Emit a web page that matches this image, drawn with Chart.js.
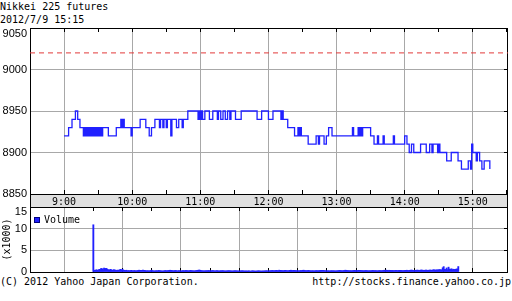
<!DOCTYPE html>
<html>
<head>
<meta charset="utf-8">
<script src="https://cdn.jsdelivr.net/npm/chart.js@4/dist/chart.umd.min.js"></script>
<style>
  html, body { margin: 0; padding: 0; background: #fff; }
  body { width: 512px; height: 301px; position: relative; overflow: hidden; font: 10px "DejaVu Sans Mono", monospace; color: #000; }
  .txt { position: absolute; line-height: 13px; white-space: pre; }
  #head { left: 0; top: 0; }
  #copy { left: 0; top: 275px; }
  #url { right: 1px; top: 275px; }
  canvas { position: absolute; left: 0; }
  #price { top: 0; }
  #volume { top: 194px; }
</style>
</head>
<body>
<div id="head" class="txt">Nikkei 225 futures
2012/7/9 15:15</div>
<div id="copy" class="txt">(C) 2012 Yahoo Japan Corporation.</div>
<div id="url" class="txt">http://stocks.finance.yahoo.co.jp</div>
<canvas id="price" width="512" height="207"></canvas>
<canvas id="volume" width="512" height="86"></canvas>
<script>
// minutes counted from 9:00
const hourMinutes = [0, 60, 120, 180, 240, 300, 360]
const hourLabels = ['9:00', '10:00', '11:00', '12:00', '13:00', '14:00', '15:00']
const priceTicks = [8850, 8900, 8950, 9000, 9050]
const volumeTicks = [0, 5000, 10000, 15000]
const prevClose = 9020

// price changes: minute -> new price (stepped)
const priceMinutes = [
    0, 4, 7, 10, 12, 14, 17, 18, 19, 20, 21, 22, 23, 24, 25, 26, 27, 28, 29, 30,
    31, 32, 33, 34, 39, 46, 50, 51, 52, 53, 59, 60, 67, 72, 75, 77, 80, 84, 85, 87,
    88, 90, 91, 94, 95, 99, 101, 104, 105, 109, 118, 119, 120, 121, 122, 124, 128, 131, 135, 136,
    138, 140, 142, 144, 146, 147, 151, 156, 170, 174, 180, 184, 191, 192, 193, 197, 203, 206, 207, 208,
    209, 215, 222, 224, 225, 229, 231, 233, 236, 254, 255, 259, 260, 261, 262, 263, 270, 273, 276, 277,
    281, 282, 290, 291, 300, 302, 304, 306, 308, 314, 319, 322, 324, 325, 329, 330, 331, 337, 341, 347,
    350, 356, 358, 359, 360, 363, 364, 366, 368, 370, 375,
]
const priceValues = [
    8920, 8930, 8940, 8950, 8940, 8930, 8920, 8930, 8920, 8930, 8920, 8930, 8920, 8930, 8920, 8930, 8920, 8930, 8920, 8930,
    8920, 8930, 8920, 8930, 8920, 8930, 8940, 8930, 8940, 8930, 8920, 8930, 8940, 8930, 8920, 8930, 8940, 8930, 8940, 8930,
    8940, 8930, 8940, 8920, 8940, 8930, 8940, 8930, 8940, 8950, 8940, 8950, 8940, 8950, 8940, 8950, 8940, 8950, 8940, 8950,
    8940, 8950, 8940, 8950, 8940, 8950, 8940, 8950, 8940, 8950, 8940, 8950, 8940, 8950, 8940, 8930, 8920, 8930, 8920, 8930,
    8920, 8910, 8920, 8910, 8920, 8910, 8920, 8930, 8920, 8930, 8920, 8930, 8920, 8930, 8920, 8930, 8920, 8910, 8920, 8910,
    8920, 8910, 8920, 8910, 8920, 8910, 8900, 8910, 8900, 8910, 8900, 8910, 8900, 8910, 8900, 8910, 8900, 8890, 8900, 8890,
    8880, 8890, 8880, 8910, 8900, 8890, 8900, 8890, 8880, 8890, 8880,
]

// contracts per minute, 9:00 .. 15:15
const volume = [
    10900, 420, 380, 510, 460, 350, 620, 580, 820, 760, 540, 910, 680, 850, 730, 560, 470, 520, 610, 390, 450, 530, 480, 410, 370,
    440, 390, 520, 610, 480, 650, 430, 380, 360, 410, 300, 340, 290, 330, 380, 310, 280, 350, 300, 270, 320, 360, 420, 390, 330,
    380, 450, 410, 360, 300, 280, 310, 260, 290, 340, 410, 300, 270, 250, 290, 310, 280, 360, 330, 300, 270, 240, 260, 300, 350,
    290, 310, 340, 380, 410, 370, 330, 300, 280, 350, 320, 290, 260, 300, 280, 250, 270, 330, 310, 290, 360, 340, 300, 280, 330,
    370, 320, 300, 280, 260, 310, 350, 390, 420, 460, 380, 330, 300, 280, 270, 290, 310, 300, 340, 320, 290, 270, 300, 310, 280,
    260, 290, 310, 280, 250, 270, 300, 290, 320, 280, 260, 250, 270, 290, 310, 300, 280, 260, 240, 270, 290, 300, 280, 260, 250,
    230, 260, 280, 300, 270, 250, 240, 260, 230, 250, 270, 240, 220, 250, 260, 240, 230, 210, 240, 260, 280, 250, 230, 220, 250,
    240, 260, 280, 300, 270, 260, 290, 310, 330, 360, 320, 300, 350, 380, 340, 310, 420, 390, 350, 330, 300, 320, 360, 340, 310,
    290, 330, 380, 410, 360, 340, 390, 360, 330, 300, 310, 280, 300, 350, 330, 380, 420, 360, 330, 310, 340, 370, 330, 300, 280,
    310, 290, 270, 300, 330, 310, 290, 320, 350, 380, 400, 360, 330, 300, 290, 270, 300, 280, 260, 290, 310, 280, 300, 270, 260,
    280, 300, 330, 370, 340, 310, 290, 330, 360, 420, 380, 350, 330, 300, 320, 290, 310, 340, 380, 360, 330, 300, 360, 410, 390,
    350, 330, 310, 290, 320, 350, 330, 300, 280, 310, 290, 320, 360, 340, 310, 330, 300, 280, 310, 340, 320, 300, 330, 360, 410,
    390, 430, 380, 350, 400, 370, 340, 360, 330, 310, 350, 380, 340, 320, 360, 390, 370, 340, 310, 330, 360, 380, 410, 370, 340,
    390, 420, 450, 400, 370, 350, 380, 410, 440, 400, 370, 420, 460, 430, 400, 380, 420, 450, 410, 390, 430, 470, 440, 410, 480,
    520, 470, 450, 500, 480, 530, 560, 510, 490, 980, 1240, 620, 580, 930, 540, 1120, 680, 610, 750, 560, 640, 590, 620, 680, 720,
    1260,
]

const blue = '#2020ff'
const gridColor = '#a8a8a8'
const monoFont = { family: 'DejaVu Sans Mono', size: 10 }

const timeAxis = (showLabels) => ({
    type: 'linear', min: -30, max: 391,
    afterBuildTicks: scale => { scale.ticks = hourMinutes.map(value => ({ value })) },
    afterFit: scale => { scale.height = showLabels ? 13 : 0 },
    ticks: {
        display: showLabels, autoSkip: false, maxRotation: 0, padding: 2,
        color: '#000', font: monoFont,
        callback: (value, index) => hourLabels[index],
    },
    grid: { color: gridColor, drawTicks: false },
    border: { display: false },
})

// black frame + little inward ticks every half hour and on the right side
const frame = {
    id: 'frame',
    beforeDatasetsDraw(chart) {
        const { ctx, chartArea: a, scales: { x, y } } = chart
        ctx.save()
        ctx.strokeStyle = '#000'
        ctx.lineWidth = 1
        ctx.strokeRect(a.left + 0.5, a.top + 0.5, a.right - a.left - 1, a.bottom - a.top)
        ctx.beginPath()
        for (let m = 0; m <= 390; m += 30) {
            const px = Math.round(x.getPixelForValue(m) - 0.5) + 0.5
            ctx.moveTo(px, a.top); ctx.lineTo(px, a.top + 4)
            ctx.moveTo(px, a.bottom); ctx.lineTo(px, a.bottom - 4)
        }
        y.ticks.forEach(t => {
            const py = Math.round(y.getPixelForValue(t.value) - 0.5) + 0.5
            ctx.moveTo(a.right - 4, py); ctx.lineTo(a.right, py)
        })
        ctx.stroke()
        ctx.restore()
    }
}

// grey band under the price panel that holds the time labels
const band = {
    id: 'band',
    beforeDraw(chart) {
        const { ctx, chartArea: a } = chart
        ctx.save()
        ctx.fillStyle = '#e0e0e0'
        ctx.fillRect(a.left, a.bottom, a.right - a.left, 13)
        ctx.strokeStyle = '#000'
        ctx.strokeRect(a.left + 0.5, a.bottom + 0.5, a.right - a.left - 1, 13)
        ctx.restore()
    }
}

const volumeKey = {
    id: 'volumeKey',
    afterDatasetsDraw(chart) {
        const { ctx, chartArea: a } = chart
        const ds = chart.data.datasets[0]
        ctx.save()
        ctx.fillStyle = ds.backgroundColor
        ctx.fillRect(a.left + 4, a.top + 10, 6, 6)
        ctx.strokeStyle = '#000080'
        ctx.strokeRect(a.left + 4.5, a.top + 10.5, 5, 5)
        ctx.fillStyle = '#000'
        ctx.font = '10px "DejaVu Sans Mono"'
        ctx.textBaseline = 'middle'
        ctx.fillText(ds.label, a.left + 14, a.top + 13.5)
        ctx.restore()
    }
}

const common = {
    responsive: false, animation: false, events: [],
    plugins: { legend: { display: false }, tooltip: { enabled: false } },
}

new Chart(document.getElementById('price'), {
    type: 'line',
    data: {
        datasets: [{
            label: 'Nikkei 225 futures',
            data: priceMinutes.map((m, i) => ({ x: m, y: priceValues[i] })),
            stepped: true, borderColor: blue, borderWidth: 1.3, pointRadius: 0, fill: false,
        }, {
            label: 'previous close',
            data: [{ x: -30, y: prevClose }, { x: 391, y: prevClose }],
            borderColor: '#e23a3a', borderWidth: 1, borderDash: [5, 4], pointRadius: 0, fill: false,
        }]
    },
    options: {
        ...common,
        layout: { padding: { top: 28, left: 0, right: 4, bottom: 0 } },
        scales: {
            x: timeAxis(true),
            y: {
                min: 8850, max: 9050,
                afterBuildTicks: scale => { scale.ticks = priceTicks.map(value => ({ value })) },
                afterFit: scale => { scale.width = 30 },
                ticks: {
                    color: '#000', padding: 3,
                    font: { family: 'Liberation Sans', size: 11, lineHeight: 1 },
                    callback: v => v === 9050 ? ['', String(v)] : String(v),
                },
                grid: { color: gridColor, drawTicks: false },
                border: { display: false },
            }
        }
    },
    plugins: [band, frame]
})

new Chart(document.getElementById('volume'), {
    type: 'bar',
    data: {
        datasets: [{
            label: 'Volume',
            data: volume.map((v, i) => ({ x: i, y: v })),
            backgroundColor: blue, borderWidth: 0, barThickness: 1.2,
        }]
    },
    options: {
        ...common,
        layout: { padding: { top: 13, left: 0, right: 4, bottom: 8 } },
        scales: {
            x: timeAxis(false),
            y: {
                min: 0, max: 15000,
                afterBuildTicks: scale => { scale.ticks = volumeTicks.map(value => ({ value })) },
                afterFit: scale => { scale.width = 30 },
                ticks: {
                    color: '#000', padding: 3,
                    font: { family: 'Liberation Sans', size: 11, lineHeight: 0.82 },
                    callback: v => v === 15000 ? ['', String(v / 1000)] : String(v / 1000),
                },
                title: { display: true, text: '(x1000)', color: '#000', font: monoFont, padding: { top: 1, bottom: 0 } },
                grid: { color: gridColor, drawTicks: false },
                border: { display: false },
            }
        }
    },
    plugins: [frame, volumeKey]
})
</script>
</body>
</html>
